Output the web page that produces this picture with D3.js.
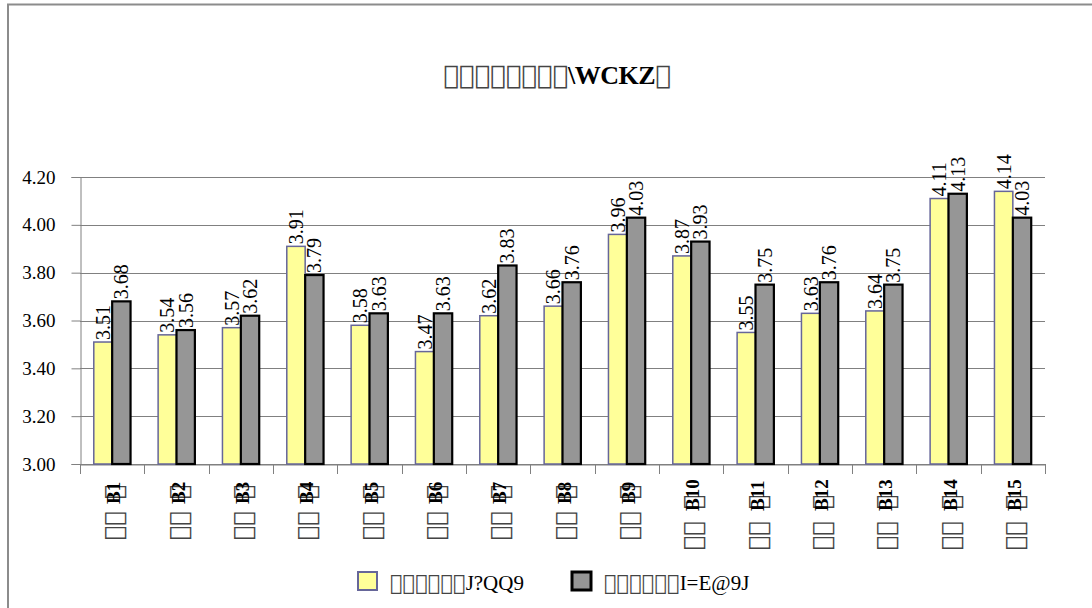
<!DOCTYPE html>
<html><head><meta charset="utf-8">
<script src="https://cdn.jsdelivr.net/npm/d3@7"></script>
<style>body{margin:0;background:#fff}svg{display:block}</style>
</head><body>
<script>
// Characters shown as empty boxes in the reference are kept as unrenderable code points
const Q="\u{F0001}";
const categories = ["B1","B2","B3","B4","B5","B6","B7","B8","B9","B10","B11","B12","B13","B14","B15"];
const catPrefix = Q+Q;   // the two box characters under each category
const catSuffix = Q;     // the box character behind each category number
const seriesNames = [[Q.repeat(6),"J?QQ9"],[Q.repeat(6),"I=E@9J"]];
const seriesA = [3.51,3.54,3.57,3.91,3.58,3.47,3.62,3.66,3.96,3.87,3.55,3.63,3.64,4.11,4.14];
const seriesB = [3.68,3.56,3.62,3.79,3.63,3.63,3.83,3.76,4.03,3.93,3.75,3.76,3.75,4.13,4.03];
const yTicks = [3.00,3.20,3.40,3.60,3.80,4.00,4.20];
const titleParts = [Q.repeat(8),"\\WCKZ",Q];

const W=1092,H=608;
const svg=d3.select("body").append("svg").attr("width",W).attr("height",H);
svg.append("rect").attr("x",8).attr("y",4.5).attr("width",1200).attr("height",700)
  .attr("fill","#fff").attr("stroke","#8c8c8c").attr("stroke-width",2);

const L=80,R=1045,T=177,B=464;
const x=d3.scaleBand().domain(categories).range([L,R]).paddingInner(0).paddingOuter(0);
const xs=d3.scaleBand().domain([0,1]).range([0,x.bandwidth()]).paddingInner(0).paddingOuter(0.75);
const y=d3.scaleLinear().domain([3.0,4.2]).range([B,T]);
const font="'Liberation Serif','Times New Roman',serif";
const boxFont="'DejaVu Serif'";
const boxColor="#444";

// gridlines
svg.append("g").selectAll("line").data(yTicks).join("line")
  .attr("x1",L).attr("x2",R).attr("y1",d=>Math.round(y(d))+0.5).attr("y2",d=>Math.round(y(d))+0.5)
  .attr("stroke","#808080").attr("stroke-width",1);

// y axis
const ya=svg.append("g").attr("transform",`translate(${L+0.5},0)`)
  .call(d3.axisLeft(y).tickValues(yTicks).tickFormat(d3.format(".2f")).tickSize(9).tickPadding(16));
ya.select(".domain").attr("stroke","#808080");
ya.selectAll(".tick line").attr("stroke","#808080");
ya.selectAll("text").attr("font-family",font).attr("font-size",19).attr("fill","#000");

// x axis
const xa=svg.append("g").attr("transform",`translate(0,${B+0.5})`)
  .call(d3.axisBottom(x).tickValues([]).tickSizeOuter(0));
xa.select(".domain").attr("stroke","#808080");
const bounds=categories.map(c=>x(c)).concat([R]);
svg.append("g").selectAll("line").data(bounds).join("line")
  .attr("x1",d=>Math.round(d)+0.5).attr("x2",d=>Math.round(d)+0.5).attr("y1",B).attr("y2",B+10)
  .attr("stroke","#808080");

// bars
const data=categories.map((c,i)=>({c,vals:[seriesA[i],seriesB[i]]}));
const fills=["#ffff99","#969696"], strokes=["#666699","#000000"], sw=[1.5,2.2];
const g=svg.append("g");
data.forEach(d=>{
  d.vals.forEach((v,k)=>{
    const bx=x(d.c)+xs(k);
    g.append("rect").attr("x",bx).attr("y",y(v)).attr("width",xs.bandwidth()).attr("height",B-y(v))
      .attr("fill",fills[k]).attr("stroke",strokes[k]).attr("stroke-width",sw[k]);
  });
});
// data labels
data.forEach(d=>{
  d.vals.forEach((v,k)=>{
    const cx=x(d.c)+xs(k)+xs.bandwidth()/2+7;
    const ty=y(v)-2;
    svg.append("text").attr("transform",`translate(${cx},${ty}) rotate(-90)`)
      .attr("font-family",font).attr("font-size",20).attr("fill","#000").text(v.toFixed(2));
  });
});

// x labels (one rotated text each)
categories.forEach((c,i)=>{
  const cx=x(c)+x.bandwidth()/2;
  const two=c.length>2;
  const off=two?10:0;
  const t=svg.append("text").attr("transform",`translate(${cx+10},0) rotate(-90)`)
    .attr("font-family",font).attr("fill","#000");
  t.append("tspan").attr("x",-(540+off)).attr("y",0).attr("font-family",boxFont).attr("font-size",24).attr("fill",boxColor).text(catPrefix);
  t.append("tspan").attr("x",-(499+off)).attr("y",0).attr("font-family",boxFont).attr("font-size",24).attr("fill",boxColor).text(catSuffix);
  t.append("tspan").attr("x",-(two?511:504)).attr("y",-2).attr("font-size",19).attr("font-weight","bold").attr("fill","#000").text(c);
});

// title
const tt=svg.append("text").attr("x",557).attr("y",84).attr("text-anchor","middle")
  .attr("font-family",font).attr("font-size",26).attr("font-weight","bold");
tt.append("tspan").attr("font-family",boxFont).attr("font-weight","normal").attr("font-size",26).attr("fill",boxColor).text(titleParts[0]);
tt.append("tspan").attr("letter-spacing",-0.5).text(titleParts[1]);
tt.append("tspan").attr("font-family",boxFont).attr("font-weight","normal").attr("font-size",26).attr("fill",boxColor).text(titleParts[2]);

// legend
const leg=[{x:358,name:seriesNames[0],k:0},{x:572,name:seriesNames[1],k:1}];
leg.forEach(l=>{
  svg.append("rect").attr("x",l.x).attr("y",572).attr("width",19).attr("height",18)
    .attr("fill",fills[l.k]).attr("stroke",strokes[l.k]).attr("stroke-width",l.k?3:2);
  const lt=svg.append("text").attr("x",l.x+32).attr("y",590).attr("font-family",font).attr("font-size",21).attr("fill","#000");
  lt.append("tspan").attr("font-family",boxFont).attr("font-size",21).attr("fill",boxColor).text(l.name[0]);
  lt.append("tspan").text(l.name[1]);
});
</script>
</body></html>
